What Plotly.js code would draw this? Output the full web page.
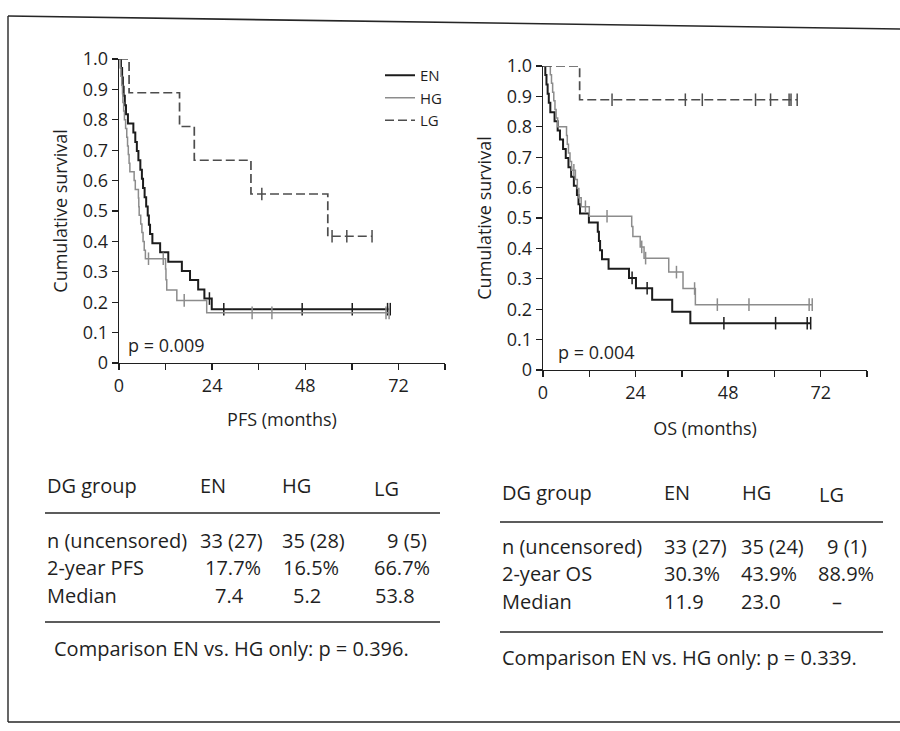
<!DOCTYPE html>
<html>
<head>
<meta charset="utf-8">
<script src="https://cdn.plot.ly/plotly-3.0.1.min.js"></script>
<style>
  html, body { margin: 0; padding: 0; background: #ffffff; }
  #chart { width: 900px; height: 731px; }
</style>
</head>
<body>
<div id="chart"></div>
<script>
// ---------- Kaplan–Meier data (months / cumulative survival after each event) ----------
const groups = ['EN', 'HG', 'LG'];

// Progression-free survival
const pfsEN_t = [0.5, 0.8, 1.0, 1.2, 1.5, 1.8, 2.3, 3.7, 4.2, 4.6, 5.0, 5.5, 5.9, 6.2, 6.6, 7.0, 7.4, 7.7, 8.0, 8.6, 10.6, 12.7, 16.2, 18.3, 20.4, 22.0, 23.9];
const pfsEN_s = [0.970, 0.939, 0.909, 0.879, 0.848, 0.818, 0.788, 0.758, 0.727, 0.697, 0.667, 0.636, 0.606, 0.576, 0.545, 0.515, 0.485, 0.455, 0.424, 0.394, 0.364, 0.333, 0.303, 0.273, 0.242, 0.212, 0.177];
const pfsEN_cens = [23.3, 27.0, 47.2, 60.1, 69.2, 69.9];

const pfsHG_t = [0.3, 0.5, 0.7, 0.9, 1.0, 1.2, 1.4, 1.7, 2.0, 2.2, 2.4, 2.6, 2.8, 3.9, 4.2, 5.0, 5.1, 5.2, 5.6, 5.9, 6.2, 6.5, 6.8, 12.0, 12.1, 12.3, 14.9, 22.6];
const pfsHG_s = [0.971, 0.943, 0.914, 0.886, 0.857, 0.829, 0.800, 0.771, 0.743, 0.714, 0.686, 0.657, 0.629, 0.600, 0.571, 0.543, 0.514, 0.486, 0.457, 0.429, 0.400, 0.371, 0.343, 0.309, 0.274, 0.240, 0.206, 0.165];
const pfsHG_cens = [7.6, 11.4, 16.8, 34.3, 39.4, 68.8, 69.6];

const pfsLG_t = [2.6, 15.6, 19.4, 34.0, 53.8];
const pfsLG_s = [0.889, 0.778, 0.667, 0.556, 0.417];
const pfsLG_cens = [36.8, 54.9, 58.7, 65.2];

// Overall survival
const osEN_t = [0.6, 0.9, 1.2, 1.5, 1.9, 3.0, 3.8, 4.4, 5.2, 5.9, 6.6, 7.3, 8.0, 8.8, 9.2, 9.6, 11.9, 14.2, 14.5, 14.8, 15.3, 17.0, 22.3, 24.1, 28.3, 33.5, 38.2];
const osEN_s = [0.970, 0.939, 0.909, 0.879, 0.848, 0.818, 0.788, 0.758, 0.727, 0.697, 0.667, 0.636, 0.606, 0.576, 0.545, 0.515, 0.485, 0.455, 0.424, 0.394, 0.364, 0.333, 0.303, 0.269, 0.231, 0.192, 0.154];
const osEN_cens = [23.1, 27.0, 46.9, 60.3, 68.5, 69.4];

const osHG_t = [1.9, 2.2, 2.5, 2.8, 3.1, 3.4, 3.8, 6.1, 6.3, 6.6, 7.0, 7.4, 8.4, 8.9, 9.3, 9.9, 12.0, 23.0, 23.3, 25.2, 26.2, 32.6, 36.3, 39.5];
const osHG_s = [0.971, 0.943, 0.914, 0.886, 0.857, 0.829, 0.800, 0.771, 0.743, 0.714, 0.686, 0.657, 0.627, 0.597, 0.567, 0.537, 0.506, 0.472, 0.439, 0.405, 0.368, 0.322, 0.268, 0.215];
const osHG_cens = [8.0, 11.0, 16.6, 25.6, 26.6, 34.6, 39.3, 45.2, 53.4, 69.0, 69.8];

const osLG_t = [9.5];
const osLG_s = [0.889];
const osLG_cens = [17.9, 36.9, 41.3, 55.1, 59.0, 63.8, 64.3, 65.9];

// Log-rank p values shown in each panel
const pfsLogrank = '0.009';
const osLogrank = '0.004';

// Summary tables
const pfsN = ['33 (27)', '35 (28)', '9 (5)'];
const pfs2yr = ['17.7%', '16.5%', '66.7%'];
const pfsMedian = ['7.4', '5.2', '53.8'];
const pfsPairP = '0.396';

const osN = ['33 (27)', '35 (24)', '9 (1)'];
const os2yr = ['30.3%', '43.9%', '88.9%'];
const osMedian = ['11.9', '23.0', '–'];
const osPairP = '0.339';

// Axis ticks
const xTickVals = [0, 12, 24, 36, 48, 60, 72, 84];
const xTickText = ['0', '', '24', '', '48', '', '72', ''];
const yTickVals = [0, 0.1, 0.2, 0.3, 0.4, 0.5, 0.6, 0.7, 0.8, 0.9, 1.0];
const yTickText = ['0', '0.1', '0.2', '0.3', '0.4', '0.5', '0.6', '0.7', '0.8', '0.9', '1.0'];

// ---------- helpers ----------
const W = 900, H = 731;
const PX = x => x / W;          // pixel -> paper x
const PY = y => 1 - y / H;      // pixel -> paper y
const FONT = '"Open Sans", "Noto Sans", Arial, sans-serif';
const INK = '#1f1f1f';

const style = {
  EN: { color: '#1c1c1c', width: 2.0, dash: 'solid' },
  HG: { color: '#8c8c8c', width: 1.5, dash: 'solid' },
  LG: { color: '#4d4d4d', width: 1.7, dash: '9px,4px' }
};

function survAt(times, surv, t) {
  let s = 1;
  for (let i = 0; i < times.length; i++) if (times[i] <= t) s = surv[i];
  return s;
}

function kmTraces(name, times, surv, cens, xa, ya, showLegend) {
  const st = style[name];
  const end = Math.max(times[times.length - 1], cens.length ? cens[cens.length - 1] : 0);
  const line = {
    type: 'scatter', mode: 'lines', name: name,
    x: [0].concat(times, [end]),
    y: [1].concat(surv, [surv[surv.length - 1]]),
    line: { shape: 'hv', color: st.color, width: st.width, dash: st.dash },
    xaxis: xa, yaxis: ya, showlegend: showLegend, legendgroup: name, hoverinfo: 'x+y+name'
  };
  // censored observations drawn as short vertical ticks on the curve
  const marks = {
    type: 'scatter', mode: 'markers', name: name + ' censored',
    x: cens, y: cens.map(t => survAt(times, surv, t)),
    marker: { symbol: 'line-ns-open', size: 9, color: st.color, line: { color: st.color, width: 1.5 } },
    xaxis: xa, yaxis: ya, showlegend: false, legendgroup: name, hoverinfo: 'x+y'
  };
  return [line, marks];
}

const data = [].concat(
  kmTraces('EN', pfsEN_t, pfsEN_s, pfsEN_cens, 'x', 'y', true),
  kmTraces('HG', pfsHG_t, pfsHG_s, pfsHG_cens, 'x', 'y', true),
  kmTraces('LG', pfsLG_t, pfsLG_s, pfsLG_cens, 'x', 'y', true),
  kmTraces('EN', osEN_t, osEN_s, osEN_cens, 'x2', 'y2', false),
  kmTraces('HG', osHG_t, osHG_s, osHG_cens, 'x2', 'y2', false),
  kmTraces('LG', osLG_t, osLG_s, osLG_cens, 'x2', 'y2', false)
);

function xAxis(domain, title, anchor, standoff) {
  return {
    domain: domain, anchor: anchor, range: [0, 84],
    tickmode: 'array', tickvals: xTickVals, ticktext: xTickText,
    ticks: 'outside', ticklen: 6, tickwidth: 1.3, tickcolor: INK,
    showline: true, linecolor: INK, linewidth: 1.3,
    showgrid: false, zeroline: false, fixedrange: true,
    tickfont: { family: FONT, size: 18, color: INK },
    title: { text: title, font: { family: FONT, size: 18, color: INK }, standoff: standoff }
  };
}
function yAxis(domain, anchor) {
  return {
    domain: domain, anchor: anchor, range: [0, 1],
    tickmode: 'array', tickvals: yTickVals, ticktext: yTickText,
    ticks: 'outside', ticklen: 6, tickwidth: 1.3, tickcolor: INK,
    showline: true, linecolor: INK, linewidth: 1.3,
    showgrid: false, zeroline: false, fixedrange: true,
    tickfont: { family: FONT, size: 18, color: INK },
    title: { text: 'Cumulative survival', font: { family: FONT, size: 18, color: INK }, standoff: 10 }
  };
}

// ---------- summary tables as text ----------
const annotations = [];
function txt(x, y, s, size, anchor) {
  annotations.push({
    xref: 'paper', yref: 'paper', x: PX(x), y: PY(y), text: s, showarrow: false,
    xanchor: anchor || 'left', yanchor: 'middle',
    font: { family: FONT, size: size || 20, color: INK }
  });
}

// in-panel p values
txt(126, 345, 'p = ' + pfsLogrank, 18);
txt(556, 352, 'p = ' + osLogrank, 18);

// left table (PFS)
const tl = { label: 45, head: [198, 280, 372], yHead: [485, 485, 488],
  rowY: [540, 567.5, 595], cells: [[198, 280, 385], [203, 281, 372], [213, 291, 373]], lineY: [513, 622], lineX: [45, 440], noteX: 52, noteY: 648 };
// right table (OS)
const tr = { label: 500, head: [662, 740, 817], yHead: [492, 492, 495],
  rowY: [546, 573.5, 601], cells: [[662, 739, 825], [662, 739, 816], [662, 739, 830]], lineY: [522, 632], lineX: [500, 883], noteX: 500, noteY: 657 };

function table(pos, rowLabels, rows, pairP) {
  txt(pos.label, pos.yHead[0], 'DG group');
  groups.forEach((g, i) => txt(pos.head[i], pos.yHead[i], g));
  rows.forEach((vals, r) => {
    txt(pos.label, pos.rowY[r], rowLabels[r]);
    vals.forEach((v, i) => txt(pos.cells[r][i], pos.rowY[r], v));
  });
  txt(pos.noteX, pos.noteY, 'Comparison EN vs. HG only: p = ' + pairP + '.');
}
table(tl, ['n (uncensored)', '2-year PFS', 'Median'], [pfsN, pfs2yr, pfsMedian], pfsPairP);
table(tr, ['n (uncensored)', '2-year OS', 'Median'], [osN, os2yr, osMedian], osPairP);

// rules and page frame
const shapes = [];
function seg(x0, y0, x1, y1, w) {
  shapes.push({ type: 'line', xref: 'paper', yref: 'paper',
    x0: PX(x0), y0: PY(y0), x1: PX(x1), y1: PY(y1),
    line: { color: '#262626', width: w || 1.5 } });
}
[tl, tr].forEach(p => p.lineY.forEach(y => seg(p.lineX[0], y, p.lineX[1], y, 1.6)));
seg(8, 16, 900, 29, 1.6);    // top edge of the frame
seg(8, 16, 8, 722, 1.4);     // left edge
seg(8, 722, 900, 722, 1.6);  // bottom edge

const layout = {
  width: W, height: H, autosize: false,
  margin: { l: 0, r: 0, t: 0, b: 0, pad: 0 },
  paper_bgcolor: '#ffffff', plot_bgcolor: 'rgba(0,0,0,0)',
  font: { family: FONT, color: INK },
  xaxis: xAxis([PX(119), PX(445)], 'PFS (months)', 'y', 17),
  yaxis: yAxis([PY(363), PY(59)], 'x'),
  xaxis2: xAxis([PX(543), PX(867)], 'OS (months)', 'y2', 19),
  yaxis2: yAxis([PY(370), PY(66)], 'x2'),
  showlegend: true,
  legend: {
    x: PX(380), y: PY(59), xanchor: 'left', yanchor: 'top',
    bgcolor: 'rgba(0,0,0,0)', borderwidth: 0,
    font: { family: FONT, size: 15, color: INK },
    tracegroupgap: 0, itemclick: false, itemdoubleclick: false
  },
  annotations: annotations,
  shapes: shapes
};

Plotly.newPlot('chart', data, layout, { displayModeBar: false, staticPlot: true });
</script>
</body>
</html>
